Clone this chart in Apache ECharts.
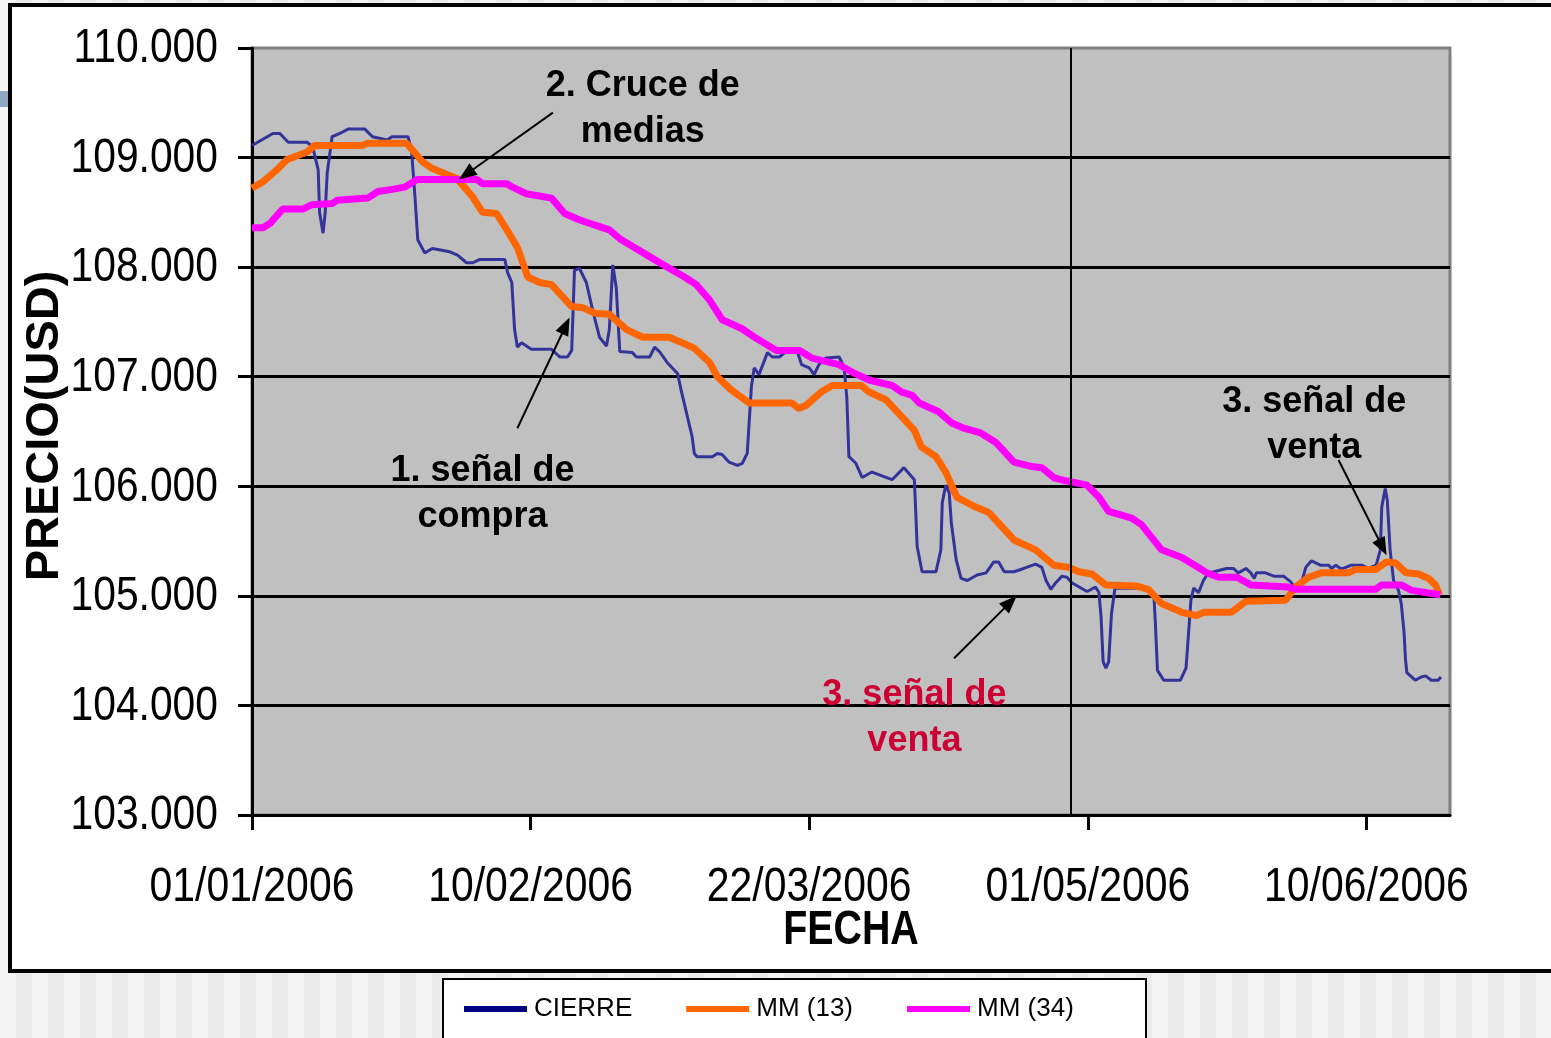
<!DOCTYPE html>
<html>
<head>
<meta charset="utf-8">
<title>PRECIO (USD) - CIERRE, MM (13), MM (34)</title>
<script src="https://cdn.jsdelivr.net/npm/echarts@6/dist/echarts.min.js"></script>
<style>
  html, body { margin: 0; padding: 0; }
  body {
    width: 1551px; height: 1038px; overflow: hidden;
    background: repeating-linear-gradient(90deg, #f4f4f4 0px, #f4f4f4 16px, #ebebeb 16px, #ebebeb 32px);
  }
  #chart { width: 1551px; height: 1038px; }
</style>
</head>
<body>
<div id="chart"></div>
<script>
// Days counted from 01/01/2006 and closing price / moving averages (thousands)
const cierreDias = [0,3.0,4.0,5.2,7.9,8.7,9.5,9.7,10.2,10.5,10.8,11.5,12.6,13.8,16.2,17.3,19.4,20.1,22.4,22.9,23.4,23.8,24.8,25.9,28.4,29.5,30.8,31.7,32.7,36.3,36.7,37.3,37.7,38.1,38.7,40.1,43.0,44.2,45.3,45.9,46.3,47.0,48.0,48.9,49.9,50.9,51.3,51.8,52.3,52.8,54.6,55.2,57.1,57.8,58.5,59.6,61.1,61.6,63.2,63.5,63.9,66.1,66.8,67.5,68.5,69.7,70.4,71.1,71.7,72.1,72.8,74.0,74.7,75.7,76.7,78.3,78.9,80.0,80.7,81.4,82.4,84.3,85.0,85.4,85.7,86.7,87.6,89.0,91.9,93.6,95.1,95.5,96.2,98.2,98.9,99.1,99.6,100.1,100.4,101.1,101.8,102.7,104.1,105.4,106.5,107.2,108.0,109.4,110.8,112.5,113.4,114.0,114.7,115.4,116.3,117.0,117.7,119.9,121.1,121.6,121.9,122.2,122.6,123.0,123.4,123.9,124.4,128.7,129.5,129.7,130.0,130.9,133.3,134.1,134.5,134.8,135.2,135.9,136.6,137.3,138.1,139.9,140.9,141.6,142.7,143.4,143.9,144.2,145.5,146.7,148.1,149.1,149.8,150.5,151.3,152.1,153.4,154.6,155.0,155.6,156.3,156.7,157.8,159.3,160.3,161.4,162.0,162.2,162.7,163.0,163.4,163.9,164.6,165.0,165.4,165.6,165.8,167.0,167.9,168.5,169.3,170.3,170.7];
const cierreValores = [109.11,109.22,109.22,109.14,109.14,109.10,108.89,108.50,108.31,108.49,108.86,109.19,109.22,109.26,109.26,109.19,109.16,109.19,109.19,109.07,108.64,108.25,108.13,108.17,108.14,108.11,108.04,108.04,108.07,108.07,107.95,107.86,107.43,107.27,107.31,107.25,107.25,107.18,107.18,107.24,107.97,107.99,107.86,107.61,107.36,107.28,107.43,108.02,107.81,107.23,107.22,107.18,107.18,107.27,107.23,107.13,107.03,106.88,106.45,106.30,106.27,106.27,106.30,106.29,106.22,106.19,106.21,106.30,106.91,107.08,107.02,107.22,107.18,107.18,107.23,107.23,107.11,107.08,107.02,107.11,107.17,107.18,107.09,106.81,106.27,106.21,106.08,106.13,106.06,106.17,106.06,105.45,105.22,105.22,105.42,105.85,106.01,105.94,105.67,105.33,105.16,105.14,105.19,105.21,105.31,105.31,105.22,105.22,105.25,105.29,105.26,105.14,105.06,105.12,105.18,105.17,105.12,105.04,105.08,105.03,104.81,104.40,104.34,104.40,104.84,105.07,105.07,105.07,104.99,104.75,104.32,104.23,104.23,104.34,104.69,104.96,105.07,105.03,105.14,105.21,105.22,105.25,105.25,105.21,105.25,105.21,105.16,105.21,105.21,105.18,105.18,105.13,105.07,105.08,105.26,105.32,105.28,105.28,105.25,105.28,105.25,105.25,105.28,105.28,105.25,105.28,105.42,105.81,105.98,105.87,105.42,105.14,105.05,104.93,104.67,104.43,104.30,104.23,104.26,104.27,104.23,104.23,104.26];

const mm13Dias = [0,1.6,3.6,5.0,7.9,9.0,15.9,16.5,22.2,24.5,25.9,29.4,31.7,33.1,35.1,36.6,38.1,39.6,41.3,43.0,45.9,47.5,49.2,51.3,53.8,56.1,59.9,61.4,63.5,65.7,66.8,68.8,71.4,77.5,78.5,79.6,81.7,83.3,87.5,88.6,91.0,92.9,95.1,96.1,98.2,99.6,101.2,103.9,105.8,109.4,112.5,115.1,117.3,118.7,120.6,122.6,126.9,128.7,130.6,133.5,135.6,136.6,140.6,142.7,148.4,149.8,151.7,153.5,157.4,158.4,161.3,162.9,164.2,165.7,167.5,168.9,169.9,170.5];
const mm13Valores = [108.72,108.78,108.89,108.98,109.05,109.11,109.11,109.13,109.13,108.96,108.90,108.81,108.64,108.50,108.49,108.34,108.18,107.91,107.86,107.84,107.64,107.63,107.58,107.57,107.43,107.36,107.36,107.32,107.26,107.13,107.00,106.88,106.76,106.76,106.71,106.74,106.86,106.92,106.92,106.86,106.79,106.66,106.51,106.36,106.27,106.13,105.90,105.81,105.76,105.51,105.42,105.28,105.26,105.22,105.20,105.10,105.09,105.06,104.93,104.85,104.82,104.85,104.85,104.95,104.96,105.08,105.17,105.21,105.21,105.24,105.24,105.31,105.30,105.21,105.20,105.16,105.10,105.01];

const mm34Dias = [0,1.6,2.6,4.4,7.3,8.6,11.5,12.2,16.6,18.1,20.1,21.9,23.7,32.3,33.1,36.6,37.4,39.4,43.0,44.9,46.7,48.0,49.9,51.3,52.8,54.6,57.5,59.9,62.1,63.8,65.7,67.5,70.3,72.4,75.3,78.6,80.4,84.3,86.2,88.6,91.9,93.3,94.8,95.8,98.6,100.4,102.2,104.5,106.8,109.4,112.0,113.4,115.1,116.8,117.7,119.9,121.6,123.0,126.3,127.7,130.6,133.5,135.6,137.1,138.8,141.4,143.4,148.8,149.8,161.3,162.2,165.0,166.5,168.5,170.6];
const mm34Valores = [108.36,108.36,108.40,108.53,108.53,108.57,108.58,108.61,108.63,108.69,108.71,108.73,108.80,108.80,108.76,108.76,108.73,108.67,108.63,108.49,108.44,108.41,108.37,108.34,108.26,108.19,108.08,107.99,107.91,107.84,107.70,107.52,107.44,107.35,107.24,107.24,107.17,107.11,107.04,106.97,106.92,106.86,106.83,106.76,106.68,106.58,106.53,106.49,106.40,106.22,106.18,106.17,106.08,106.05,106.04,106.01,105.90,105.77,105.71,105.65,105.42,105.35,105.27,105.21,105.17,105.17,105.10,105.08,105.06,105.06,105.10,105.10,105.05,105.03,105.01];

const serieNombres = ['CIERRE', 'MM (13)', 'MM (34)'];
const ejeXTicks = [0, 40, 80, 120, 160];          // days from 01/01/2006
const ejeYTicks = [103, 104, 105, 106, 107, 108, 109, 110];
const diaReferencia = 117.6;                      // vertical reference line

// Annotation texts anchored in chart units [day, price]
const notas = [
  { texto: '2. Cruce de\nmedias', en: [56.1, 109.44], color: '#000000' },
  { texto: '1. señal de\ncompra', en: [33.1, 105.93], color: '#000000' },
  { texto: '3. señal de\nventa', en: [95.1, 103.88], color: '#CC0033' },
  { texto: '3. señal de\nventa', en: [152.5, 106.56], color: '#000000' }
];
// Arrows: from -> to, in chart units
const flechas = [
  { desde: [43.2, 109.41], hasta: [29.7, 108.80] },
  { desde: [38.1, 106.53], hasta: [45.6, 107.54] },
  { desde: [100.8, 104.43], hasta: [109.8, 105.00] },
  { desde: [156.0, 106.24], hasta: [162.9, 105.37] }
];

const zip = (xs, ys) => xs.map((x, i) => [x, ys[i]]);

function fechaDesdeDia(d) {
  const t = new Date(Date.UTC(2006, 0, 1) + d * 86400000);
  const dd = String(t.getUTCDate()).padStart(2, '0');
  const mm = String(t.getUTCMonth() + 1).padStart(2, '0');
  return dd + '/' + mm + '/' + t.getUTCFullYear();
}

const SANS = "'Liberation Sans', Arial, sans-serif";
// horizontal squeeze for the axis texts
const CONDENSADO_Y = 0.85;
const CONDENSADO_X = 0.835;
const CONDENSADO_TITULO = 0.82;

const chart = echarts.init(document.getElementById('chart'), null, { renderer: 'canvas' });

const option = {
  animation: false,
  backgroundColor: 'transparent',
  grid: {
    left: 252, top: 48, right: 101, bottom: 223,
    show: true, backgroundColor: '#C0C0C0', borderColor: '#808080', borderWidth: 3
  },
  legend: {
    left: 459, top: 991,
    icon: 'rect', itemWidth: 63, itemHeight: 6, itemGap: 54,
    textStyle: { fontFamily: SANS, fontSize: 26, color: '#000', padding: [0, 0, 0, 2] },
    data: [
      { name: serieNombres[0], itemStyle: { color: '#000080' } },
      { name: serieNombres[1] },
      { name: serieNombres[2] }
    ]
  },
  xAxis: {
    type: 'value', min: 0, max: 172, interval: 40,
    axisLine: { show: true, lineStyle: { color: '#000', width: 3 } },
    axisTick: { show: true, inside: false, length: 15, lineStyle: { color: '#000', width: 3 }, customValues: ejeXTicks },
    axisLabel: { show: false },
    splitLine: { show: false }
  },
  yAxis: {
    type: 'value', min: 103, max: 110, interval: 1,
    axisLine: { show: true, lineStyle: { color: '#000', width: 3 } },
    axisTick: { show: true, inside: false, length: 14, lineStyle: { color: '#000', width: 3 } },
    axisLabel: { show: false },
    splitLine: { show: true, showMaxLine: false, showMinLine: false, lineStyle: { color: '#000', width: 3 } }
  },
  series: [
    {
      name: serieNombres[0], type: 'line', showSymbol: false, z: 2,
      data: zip(cierreDias, cierreValores),
      lineStyle: { color: '#333399', width: 3 }, itemStyle: { color: '#333399' },
      markLine: {
        silent: true, symbol: ['none', 'none'], label: { show: false },
        lineStyle: { color: '#000', width: 2, type: 'solid' },
        data: [{ xAxis: diaReferencia }]
      }
    },
    {
      name: serieNombres[1], type: 'line', showSymbol: false, z: 3,
      data: zip(mm13Dias, mm13Valores),
      lineStyle: { color: '#FF6600', width: 7 }, itemStyle: { color: '#FF6600' }
    },
    {
      name: serieNombres[2], type: 'line', showSymbol: false, z: 4,
      data: zip(mm34Dias, mm34Valores),
      lineStyle: { color: '#FF00FF', width: 7 }, itemStyle: { color: '#FF00FF' }
    }
  ]
};

chart.setOption(option);

// Frame, tick labels, axis titles, legend box, annotations and arrows
const px = p => chart.convertToPixel({ gridIndex: 0 }, p);
const graficos = [
  { type: 'rect', z: -10, shape: { x: 10, y: 5, width: 1600, height: 966 },
    style: { fill: '#ffffff', stroke: '#000000', lineWidth: 4 } },
  { type: 'rect', z: -9, shape: { x: 0, y: 91, width: 8, height: 16 },
    style: { fill: '#8FA8C0' } },
  { type: 'rect', z: -10, shape: { x: 443, y: 979, width: 703, height: 80 },
    style: { fill: '#ffffff', stroke: '#000000', lineWidth: 2 } },
  { type: 'text', z: 50, x: 851, y: 931, scaleX: CONDENSADO_TITULO,
    style: { text: 'FECHA', fontFamily: SANS, fontWeight: 'bold', fontSize: 48,
             fill: '#000', align: 'center', verticalAlign: 'middle' } },
  { type: 'text', z: 50, x: 45, y: 426, rotation: Math.PI / 2,
    style: { text: 'PRECIO(USD)', fontFamily: SANS, fontWeight: 'bold', fontSize: 47,
             fill: '#000', align: 'center', verticalAlign: 'middle' } }
];

// y tick labels, right-aligned left of the axis
ejeYTicks.forEach(v => {
  const p = px([0, v]);
  graficos.push({
    type: 'text', z: 50, x: p[0] - 34, y: p[1] + 1, scaleX: CONDENSADO_Y,
    style: { text: v.toFixed(3), fontFamily: SANS, fontSize: 48, fill: '#000',
             align: 'right', verticalAlign: 'middle' }
  });
});
// x tick labels, centred under the ticks
ejeXTicks.forEach(d => {
  const p = px([d, 103]);
  graficos.push({
    type: 'text', z: 50, x: p[0], y: p[1] + 72, scaleX: CONDENSADO_X,
    style: { text: fechaDesdeDia(d), fontFamily: SANS, fontSize: 49, fill: '#000',
             align: 'center', verticalAlign: 'middle' }
  });
});

notas.forEach(n => {
  const p = px(n.en);
  graficos.push({
    type: 'text', z: 60, x: p[0], y: p[1],
    style: { text: n.texto, fontFamily: SANS, fontWeight: 'bold', fontSize: 36, lineHeight: 46,
             fill: n.color, align: 'center', verticalAlign: 'middle' }
  });
});

flechas.forEach(f => {
  const a = px(f.desde), b = px(f.hasta);
  const dx = b[0] - a[0], dy = b[1] - a[1];
  const len = Math.hypot(dx, dy);
  const ux = dx / len, uy = dy / len, nx = -uy, ny = ux;
  const L = 18, W = 7;
  const bx = b[0] - ux * L, by = b[1] - uy * L;
  graficos.push({
    type: 'line', z: 60,
    shape: { x1: a[0], y1: a[1], x2: bx + ux * 2, y2: by + uy * 2 },
    style: { stroke: '#000', lineWidth: 2 }
  });
  graficos.push({
    type: 'polygon', z: 61,
    shape: { points: [[b[0], b[1]], [bx + nx * W, by + ny * W], [bx - nx * W, by - ny * W]] },
    style: { fill: '#000' }
  });
});

chart.setOption({ graphic: graficos });
</script>
</body>
</html>
